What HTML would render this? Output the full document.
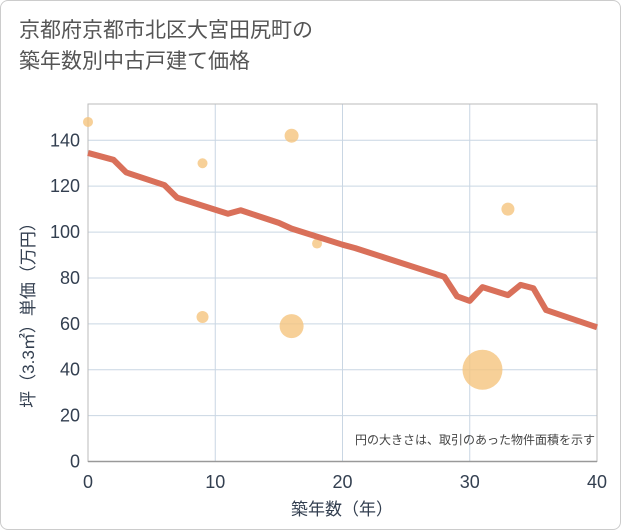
<!DOCTYPE html>
<html><head><meta charset="utf-8"><style>
body{margin:0;background:#fff;font-family:"Liberation Sans","Noto Sans CJK JP",sans-serif;}
#card{position:absolute;left:0;top:0;width:619px;height:528px;border:1px solid #ccc;border-radius:8px;background:#fff;}
#title{position:absolute;left:18px;top:14px;font-size:21px;line-height:31px;color:#555;}
</style></head><body>
<div id="card">
<div id="title">京都府京都市北区大宮田尻町の<br>築年数別中古戸建て価格</div>
<svg id="chart" width="621" height="530" style="position:absolute;left:0;top:0"></svg>
</div>
<script>
const lineYears=[0,2,3,6,7,11,12,15,16,20,21,28,29,30,31,33,34,35,36,40];
const lineValues=[134.5,131.5,126,120.5,115,108,109.5,104,101.5,94.5,93,80.5,72,70,76,72.5,77,75.5,66,58.5];
const bubbleYears=[0,9,16,18,33,9,16,31];
const bubbleValues=[148,130,142,95,110,63,59,40];
const bubbleSizes=[5,5,7,5,6.5,6,12,20];
const xTicks=[0,10,20,30,40];
const yTicks=[0,20,40,60,80,100,120,140];
const X0=87,X1=596,Y0=460.5,YT=103;
const xs=v=>X0+(v/40)*(X1-X0);
const ys=v=>Y0-(v/140)*(Y0-139.3);
const svg=document.getElementById('chart');
const NS='http://www.w3.org/2000/svg';
function mk(t,a){const e=document.createElementNS(NS,t);for(const k in a)e.setAttribute(k,a[k]);svg.appendChild(e);return e;}
xTicks.forEach(t=>{const l=mk('line',{x1:xs(t),x2:xs(t),y1:YT,y2:Y0,stroke:'#c9d6e3','stroke-width':1});

const tx=mk('text',{x:xs(t),y:487,'text-anchor':'middle','font-size':18,fill:'#333f50'});tx.textContent=t;
});
yTicks.forEach(t=>{const l=mk('line',{x1:X0,x2:X1,y1:ys(t),y2:ys(t),stroke:'#c9d6e3','stroke-width':1});

const tx=mk('text',{x:79,y:ys(t)+6,'text-anchor':'end','font-size':18,fill:'#333f50'});tx.textContent=t;
});
const fr=mk('rect',{x:X0,y:YT,width:X1-X0,height:Y0-YT,fill:'none',stroke:'#bbb','stroke-width':1});

const ax=mk('line',{x1:X0,x2:X1,y1:Y0,y2:Y0,stroke:'#999','stroke-width':1.5});

bubbleYears.forEach((y,i)=>{const c=mk('circle',{cx:xs(y),cy:ys(bubbleValues[i]),r:bubbleSizes[i],fill:'#f5c47e','fill-opacity':0.8});
});
const p=mk('polyline',{points:lineYears.map((y,i)=>xs(y)+','+ys(lineValues[i])).join(' '),fill:'none',stroke:'#d9705a','stroke-width':6,'stroke-linejoin':'round'});

const note=mk('text',{x:594,y:443,'text-anchor':'end','font-size':12,fill:'#444'});note.textContent='円の大きさは、取引のあった物件面積を示す';

const xt=mk('text',{x:341,y:514,'text-anchor':'middle','font-size':17,fill:'#333f50'});xt.textContent='築年数（年）';

const yt=mk('text',{x:0,y:0,'text-anchor':'middle','font-size':17,fill:'#333f50',transform:'translate(33,310) rotate(-90)'});yt.textContent='坪（3.3㎡）単価（万円）';

</script>
</body></html>
